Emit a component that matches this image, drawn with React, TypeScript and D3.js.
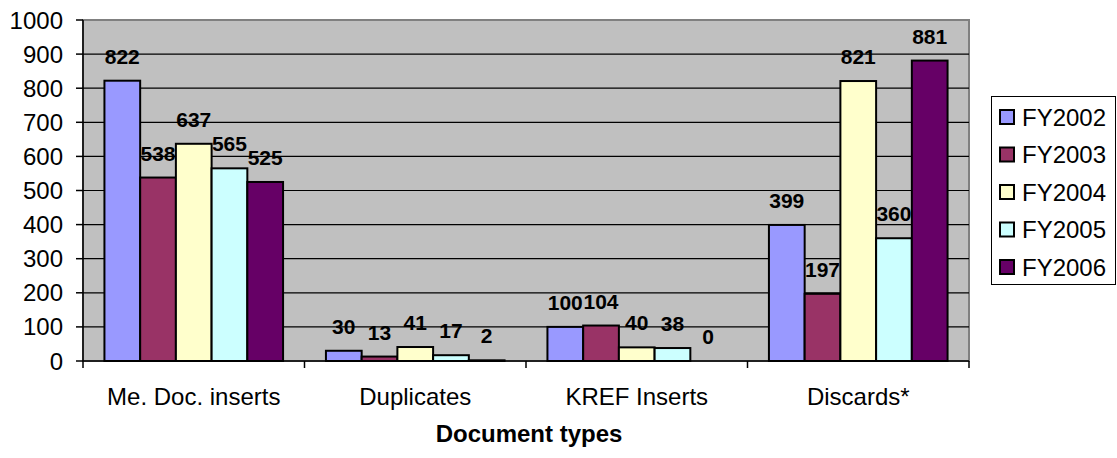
import * as d3 from 'd3';
import React from 'react';

const categories = ['Me. Doc. inserts', 'Duplicates', 'KREF Inserts', 'Discards*'];
const seriesNames = ['FY2002', 'FY2003', 'FY2004', 'FY2005', 'FY2006'];
const fy2002 = [822, 30, 100, 399];
const fy2003 = [538, 13, 104, 197];
const fy2004 = [637, 41, 40, 821];
const fy2005 = [565, 17, 38, 360];
const fy2006 = [525, 2, 0, 881];
const yTicks = [0, 100, 200, 300, 400, 500, 600, 700, 800, 900, 1000];
const colors = ['#9999FF', '#993366', '#FFFFCC', '#CCFFFF', '#660066'];

const series = [fy2002, fy2003, fy2004, fy2005, fy2006];

export default function App() {
  const W = 1117;
  const H = 458;
  const left = 83;
  const right = 969;
  const top = 20;
  const bottom = 361;
  const font = 'Arial, "Liberation Sans", sans-serif';

  const x0 = d3.scaleBand().domain(categories).range([left, right]).paddingInner(0).paddingOuter(0);
  const inner = d3
    .scaleBand()
    .domain(seriesNames)
    .range([0, x0.bandwidth()])
    .paddingOuter(0.6)
    .paddingInner(0);
  const y = d3.scaleLinear().domain([0, 1000]).range([bottom, top]);

  return (
    <svg
      width={W}
      height={H}
      style={{ position: 'absolute', left: 0, top: 0, background: '#fff' }}
      fontFamily={font}
    >
      <rect x={left} y={top} width={right - left} height={bottom - top} fill="#C0C0C0" stroke="#808080" strokeWidth={2} />
      {yTicks.slice(1, -1).map((t) => (
        <line key={'g' + t} x1={left} x2={right} y1={y(t)} y2={y(t)} stroke="#000" strokeWidth={1.2} />
      ))}
      {series.map((vals, si) =>
        vals.map((v, ci) => {
          const bx = (x0(categories[ci]) as number) + (inner(seriesNames[si]) as number);
          return (
            <rect
              key={`b${si}-${ci}`}
              x={bx}
              y={y(v)}
              width={inner.bandwidth()}
              height={bottom - y(v)}
              fill={colors[si]}
              stroke="#000"
              strokeWidth={2}
            />
          );
        })
      )}
      {series.map((vals, si) =>
        vals.map((v, ci) => {
          const bx = (x0(categories[ci]) as number) + (inner(seriesNames[si]) as number) + inner.bandwidth() / 2;
          return (
            <text
              key={`l${si}-${ci}`}
              x={bx}
              y={y(v) - 17}
              textAnchor="middle"
              fontSize={21}
              fontWeight="bold"
              fill="#000"
            >
              {v}
            </text>
          );
        })
      )}
      {/* axes */}
      <line x1={left} x2={left} y1={top} y2={bottom + 7} stroke="#000" strokeWidth={1.5} />
      <line x1={left} x2={right} y1={bottom} y2={bottom} stroke="#000" strokeWidth={1.5} />
      {yTicks.map((t) => (
        <g key={'t' + t}>
          <line x1={left - 7} x2={left} y1={y(t)} y2={y(t)} stroke="#000" strokeWidth={1.5} />
          <text x={63} y={y(t) + 8.5} textAnchor="end" fontSize={24} fill="#000">
            {t}
          </text>
        </g>
      ))}
      {categories.map((c) => (
        <g key={'c' + c}>
          <line
            x1={(x0(c) as number) + x0.bandwidth()}
            x2={(x0(c) as number) + x0.bandwidth()}
            y1={bottom}
            y2={bottom + 7}
            stroke="#000"
            strokeWidth={1.5}
          />
          <text x={(x0(c) as number) + x0.bandwidth() / 2} y={405} textAnchor="middle" fontSize={24} fill="#000">
            {c}
          </text>
        </g>
      ))}
      <text x={529} y={442} textAnchor="middle" fontSize={24} fontWeight="bold" fill="#000">
        Document types
      </text>
      {/* legend */}
      <rect x={991.5} y={96.5} width={124} height={188} fill="#fff" stroke="#000" strokeWidth={1} />
      {seriesNames.map((n, i) => {
        const cy = 117 + i * 37.5;
        return (
          <g key={'lg' + n}>
            <rect x={1000} y={cy - 7} width={14} height={14} fill={colors[i]} stroke="#000" strokeWidth={2} />
            <text x={1022} y={cy + 8.5} fontSize={24} fill="#000">
              {n}
            </text>
          </g>
        );
      })}
    </svg>
  );
}
